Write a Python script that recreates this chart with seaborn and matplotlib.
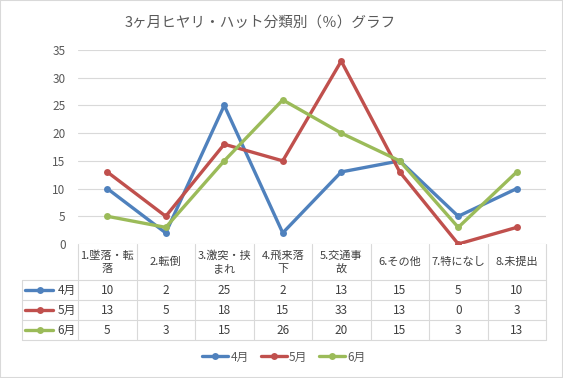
import pandas as pd
import matplotlib.pyplot as plt
import seaborn as sns
from matplotlib.lines import Line2D
from matplotlib.patches import Rectangle

# data
categories = ['1.墜落・転\n落', '2.転倒', '3.激突・挟\nまれ', '4.飛来落\n下',
              '5.交通事\n故', '6.その他', '7.特になし', '8.未提出']
months = ['4月', '5月', '6月']
apr = [10, 2, 25, 2, 13, 15, 5, 10]
may = [13, 5, 18, 15, 33, 13, 0, 3]
jun = [5, 3, 15, 26, 20, 15, 3, 13]
colors = {'4月': '#4F81BD', '5月': '#C0504D', '6月': '#9BBB59'}

rows = []
for m, vals in zip(months, [apr, may, jun]):
    for i, v in enumerate(vals):
        rows.append({'pos': i, 'value': v, 'month': m})
df = pd.DataFrame(rows)

sns.set_style('white')
plt.rcParams['font.family'] = ['Noto Sans CJK JP', 'DejaVu Sans']

W, H = 563, 378
fig = plt.figure(figsize=(W / 100, H / 100), dpi=100)

def fx(x):
    return x / W

def fy(y):
    return 1 - y / H

ax = fig.add_axes([fx(78), fy(244), (546 - 78) / W, (244 - 50) / H])
sns.lineplot(data=df, x='pos', y='value', hue='month', palette=colors,
             marker='o', markersize=5, markeredgewidth=0, linewidth=2.4,
             legend=False, ax=ax)

ax.set_xlim(-0.5, 7.5)
ax.set_ylim(0, 35)
ax.set_yticks(range(0, 36, 5))
ax.set_xticks([])
ax.set_xlabel('')
ax.set_ylabel('')
ax.grid(axis='y', color='#d9d9d9', linewidth=0.8)
ax.set_axisbelow(True)
for s in ax.spines.values():
    s.set_visible(False)
ax.tick_params(axis='y', length=0, pad=9, labelsize=8.5, labelcolor='#595959')

# data table under the plot (pixel layout of the cells)
grid_c = '#d9d9d9'
col_w = 58.5
x0, lab_x0 = 78, 22
y_head, y_rows = 244, 280
row_h = 20

def hline(y, xa, xb):
    fig.add_artist(Line2D([fx(xa), fx(xb)], [fy(y), fy(y)], color=grid_c, linewidth=0.8))

def vline(x, ya, yb):
    fig.add_artist(Line2D([fx(x), fx(x)], [fy(ya), fy(yb)], color=grid_c, linewidth=0.8))

y_end = y_rows + row_h * len(months)
for k in range(len(months) + 1):
    hline(y_rows + row_h * k, lab_x0, x0 + col_w * len(categories))
for j in range(len(categories) + 1):
    vline(x0 + col_w * j, y_head, y_end)
vline(lab_x0, y_rows, y_end)

for j, cat in enumerate(categories):
    fig.text(fx(x0 + col_w * (j + 0.5)), fy((y_head + y_rows) / 2), cat,
             ha='center', va='center', fontsize=8, color='#404040', linespacing=1.35)

for i, (m, vals) in enumerate(zip(months, [apr, may, jun])):
    yc = fy(y_rows + row_h * (i + 0.5))
    fig.text(fx(x0 - 2), yc, m, ha='right', va='center', fontsize=8.5, color='#404040')
    fig.add_artist(Line2D([fx(25), fx(53)], [yc, yc], color=colors[m], linewidth=2.4))
    fig.add_artist(Line2D([fx(40)], [yc], color=colors[m], marker='o', markersize=5,
                          markeredgewidth=0, linestyle='none'))
    for j, v in enumerate(vals):
        fig.text(fx(x0 + col_w * (j + 0.5)), yc, str(v), ha='center', va='center',
                 fontsize=8.5, color='#404040')

# bottom legend
handles = [Line2D([], [], color=colors[m], linewidth=2.4, marker='o', markersize=5,
                  markeredgewidth=0, label=m) for m in months]
leg = fig.legend(handles=handles, loc='center', bbox_to_anchor=(fx(284), fy(357)),
                 ncol=3, frameon=False, fontsize=8.5, handlelength=2.2,
                 handletextpad=0.2, columnspacing=1.0)
for t in leg.get_texts():
    t.set_color('#595959')

fig.text(fx(260), fy(23), '3ヶ月ヒヤリ・ハット分類別（％）グラフ', ha='center', va='center',
         fontsize=10.5, color='#595959')

fig.add_artist(Rectangle((0, 0), 1, 1, transform=fig.transFigure, fill=False,
                         edgecolor='#d9d9d9', linewidth=1.5))

fig.savefig('out.png', dpi=100)
